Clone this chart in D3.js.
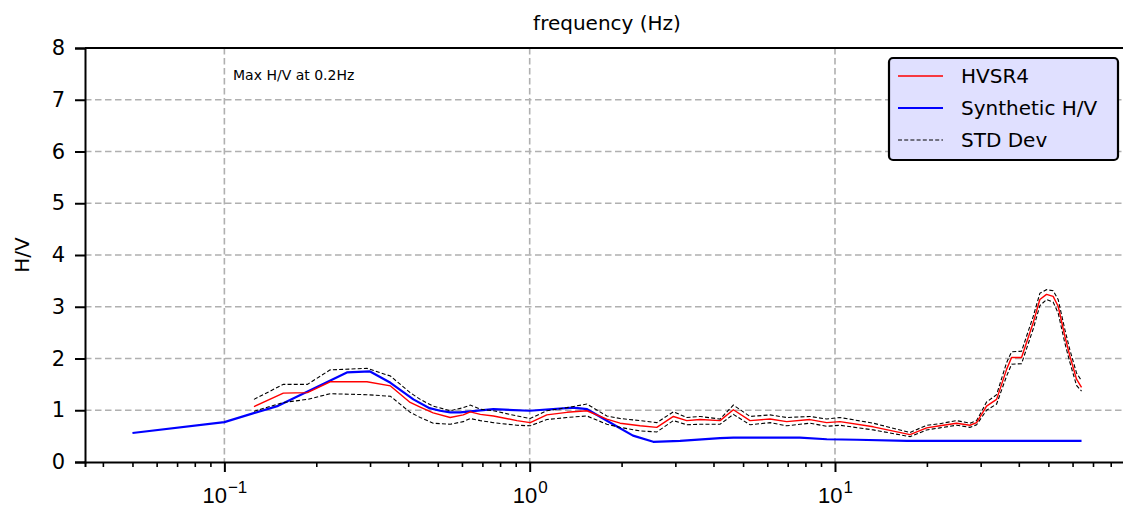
<!DOCTYPE html>
<html>
<head>
<meta charset="utf-8">
<script src="https://cdn.jsdelivr.net/npm/d3@7"></script>
<style>
  body { margin: 0; background: #fff; }
  svg { font-family: "DejaVu Sans", sans-serif; }
  .tick text { fill: #000; }
</style>
</head>
<body>
<div id="chart"></div>
<script>
var W = 1123, H = 511;
var margin = { top: 48, right: -6, bottom: 49, left: 85 },
    width = W - margin.left - margin.right,
    height = H - margin.top - margin.bottom;

// frequencies shared by the measured curve and its std bounds
var hvFreq = [0.125, 0.156, 0.187, 0.222, 0.293, 0.35, 0.406, 0.438, 0.483, 0.549, 0.606, 0.639,
    0.689, 0.761, 0.908, 1.004, 1.138, 1.324, 1.539, 1.789, 1.978, 2.299, 2.608, 2.956, 3.27,
    3.615, 4.204, 4.647, 5.27, 6.127, 6.947, 8.279, 9.393, 10.38, 13.35, 17.61, 19.96, 22.07,
    25.02, 27.67, 29.1, 31.37, 33.83, 36.48, 37.88, 40.84, 42.41, 44.58, 46.88, 49.3, 51.83,
    53.82, 56.61, 58.77, 61.82, 64.2];
var hvsr = [1.07, 1.33, 1.34, 1.55, 1.55, 1.47, 1.15, 1.06, 0.95, 0.86, 0.91, 0.97,
    0.92, 0.89, 0.80, 0.76, 0.91, 0.96, 0.99, 0.83, 0.75, 0.70, 0.67, 0.88, 0.80,
    0.82, 0.80, 1.01, 0.80, 0.83, 0.78, 0.82, 0.76, 0.78, 0.68, 0.53, 0.66, 0.70,
    0.75, 0.71, 0.76, 1.08, 1.21, 1.79, 2.02, 2.02, 2.31, 2.69, 3.14, 3.24, 3.20,
    3.01, 2.43, 2.05, 1.60, 1.44];
var stdUpper = [1.21, 1.50, 1.50, 1.78, 1.81, 1.66, 1.34, 1.21, 1.08, 0.99, 1.05, 1.10,
    1.02, 0.99, 0.89, 0.84, 0.99, 1.05, 1.12, 0.89, 0.84, 0.80, 0.76, 0.97, 0.86,
    0.88, 0.83, 1.10, 0.88, 0.91, 0.86, 0.88, 0.83, 0.86, 0.75, 0.57, 0.71, 0.74,
    0.80, 0.75, 0.80, 1.16, 1.30, 1.92, 2.13, 2.14, 2.43, 2.81, 3.26, 3.33, 3.31,
    3.14, 2.56, 2.17, 1.72, 1.57];
var stdLower = [0.98, 1.15, 1.21, 1.32, 1.30, 1.27, 0.96, 0.86, 0.75, 0.73, 0.78, 0.84,
    0.80, 0.76, 0.71, 0.70, 0.82, 0.86, 0.89, 0.73, 0.67, 0.60, 0.58, 0.80, 0.72,
    0.73, 0.73, 0.92, 0.72, 0.76, 0.70, 0.75, 0.69, 0.71, 0.62, 0.49, 0.62, 0.66,
    0.71, 0.67, 0.72, 1.00, 1.12, 1.66, 1.89, 1.90, 2.19, 2.57, 3.02, 3.14, 3.09,
    2.88, 2.30, 1.93, 1.48, 1.37];

// synthetic model curve
var synFreq = [0.05, 0.1, 0.124, 0.15, 0.252, 0.30, 0.35, 0.416, 0.47, 0.509, 0.549, 0.592,
    0.76, 1.0, 1.388, 1.542, 1.875, 2.18, 2.54, 3.11, 4.2, 4.65, 7.67, 9.4, 11.8, 17.2, 64.2];
var synHV = [0.56, 0.77, 0.94, 1.085, 1.73, 1.75, 1.53, 1.21, 1.04, 0.99, 0.96, 0.96,
    1.02, 0.99, 1.05, 1.02, 0.73, 0.51, 0.39, 0.41, 0.46, 0.47, 0.47, 0.44, 0.43, 0.41, 0.41];

var xMajor = [0.1, 1, 10];
var xMajorExp = ["\u22121", "0", "1"];
var yTicks = [0, 1, 2, 3, 4, 5, 6, 7, 8];
var legendLabels = ["HVSR4", "Synthetic H/V", "STD Dev"];
var noteText = "Max H/V at 0.2Hz";

var x = d3.scaleLog()
    .domain([Math.pow(10, -1.4565), Math.pow(10, 1.963)])
    .range([0, width]);

var y = d3.scaleLinear()
    .domain([0, 8])
    .range([height, 0]);

var svg = d3.select("#chart")
    .append("svg")
    .attr("width", W)
    .attr("height", H)
    .append("g")
    .attr("transform", "translate(" + margin.left + "," + margin.top + ")");

svg.append("defs").append("clipPath").attr("id", "clip")
    .append("rect").attr("width", width).attr("height", height);

//grid
var grid = svg.append("g")
    .attr("stroke", "#b0b0b0")
    .attr("stroke-width", 1.6)
    .attr("stroke-dasharray", "6.5,3.5");
grid.selectAll("line.gx").data(xMajor).join("line")
    .attr("x1", d => x(d)).attr("x2", d => x(d))
    .attr("y1", 0).attr("y2", height);
grid.selectAll("line.gy").data(yTicks.slice(1, -1)).join("line")
    .attr("x1", 0).attr("x2", width)
    .attr("y1", d => y(d)).attr("y2", d => y(d));

//lines
var line = d3.line()
    .x(d => x(d[0]))
    .y(d => y(d[1]));

var plot = svg.append("g").attr("clip-path", "url(#clip)");

plot.append("path")
    .datum(d3.zip(synFreq, synHV))
    .attr("fill", "none")
    .attr("stroke", "#0000ff")
    .attr("stroke-width", 2.2)
    .attr("stroke-linejoin", "round")
    .attr("d", line);

[stdUpper, stdLower].forEach(function(s) {
    plot.append("path")
        .datum(d3.zip(hvFreq, s))
        .attr("fill", "none")
        .attr("stroke", "#000")
        .attr("stroke-width", 1.1)
        .attr("stroke-dasharray", "4,2.2")
        .attr("d", line);
});

plot.append("path")
    .datum(d3.zip(hvFreq, hvsr))
    .attr("fill", "none")
    .attr("stroke", "#ff0000")
    .attr("stroke-width", 1.4)
    .attr("stroke-linejoin", "round")
    .attr("d", line);

//spines
svg.append("line").attr("x1", 0).attr("x2", width).attr("y1", 0).attr("y2", 0)
    .attr("stroke", "#000").attr("stroke-width", 2);

//x axis, minor then major
var xMinor = x.ticks().filter(d => xMajor.indexOf(d) < 0);
svg.append("g")
    .attr("transform", "translate(0," + height + ")")
    .call(d3.axisBottom(x).tickValues(xMinor).tickSize(5).tickFormat(""))
    .call(g => g.selectAll(".tick line").attr("stroke", "#000").attr("stroke-width", 1.6))
    .call(g => g.select(".domain").attr("stroke", "#000").attr("stroke-width", 2));

var xAxis = svg.append("g")
    .attr("transform", "translate(0," + height + ")")
    .call(d3.axisBottom(x).tickValues(xMajor).tickSize(10).tickFormat(""))
    .call(g => g.select(".domain").remove())
    .call(g => g.selectAll(".tick line").attr("stroke", "#000").attr("stroke-width", 2));

xAxis.selectAll(".tick").each(function(d, i) {
    var t = d3.select(this).append("text")
        .attr("y", 41)
        .attr("text-anchor", "middle")
        .attr("font-size", 22)
        .attr("fill", "#000");
    t.append("tspan").text("10");
    t.append("tspan").attr("dy", -10).attr("dx", 1).attr("font-size", 17).text(xMajorExp[i]);
});

//y axis
svg.append("g")
    .call(d3.axisLeft(y).tickValues(yTicks).tickSize(10).tickPadding(10))
    .call(g => g.select(".domain").attr("stroke", "#000").attr("stroke-width", 2))
    .call(g => g.selectAll(".tick line").attr("stroke", "#000").attr("stroke-width", 2))
    .call(g => g.selectAll(".tick text").attr("font-size", 21).attr("font-family", "DejaVu Sans"));

//labels
svg.append("text")
    .attr("x", width / 2)
    .attr("y", -18)
    .attr("text-anchor", "middle")
    .attr("font-size", 20)
    .text("frequency (Hz)");

svg.append("text")
    .attr("transform", "translate(-56," + (height / 2) + ") rotate(-90)")
    .attr("text-anchor", "middle")
    .attr("font-size", 20)
    .text("H/V");

svg.append("text")
    .attr("x", 148)
    .attr("y", 32)
    .attr("font-size", 14)
    .text(noteText);

//legend
var lg = svg.append("g").attr("transform", "translate(804,10)");
lg.append("rect")
    .attr("width", 229).attr("height", 102)
    .attr("rx", 4)
    .attr("fill", "#e0e0ff")
    .attr("stroke", "#000")
    .attr("stroke-width", 2.2);
var legendStyle = [
    { stroke: "#ff0000", w: 1.4, dash: null },
    { stroke: "#0000ff", w: 2.2, dash: null },
    { stroke: "#000", w: 1.1, dash: "4,2.2" }
];
legendLabels.forEach(function(label, i) {
    var yy = 18 + i * 32;
    lg.append("line")
        .attr("x1", 9).attr("x2", 54).attr("y1", yy).attr("y2", yy)
        .attr("stroke", legendStyle[i].stroke)
        .attr("stroke-width", legendStyle[i].w)
        .attr("stroke-dasharray", legendStyle[i].dash);
    lg.append("text")
        .attr("x", 72).attr("y", yy + 7)
        .attr("font-size", 20)
        .text(label);
});
</script>
</body>
</html>
